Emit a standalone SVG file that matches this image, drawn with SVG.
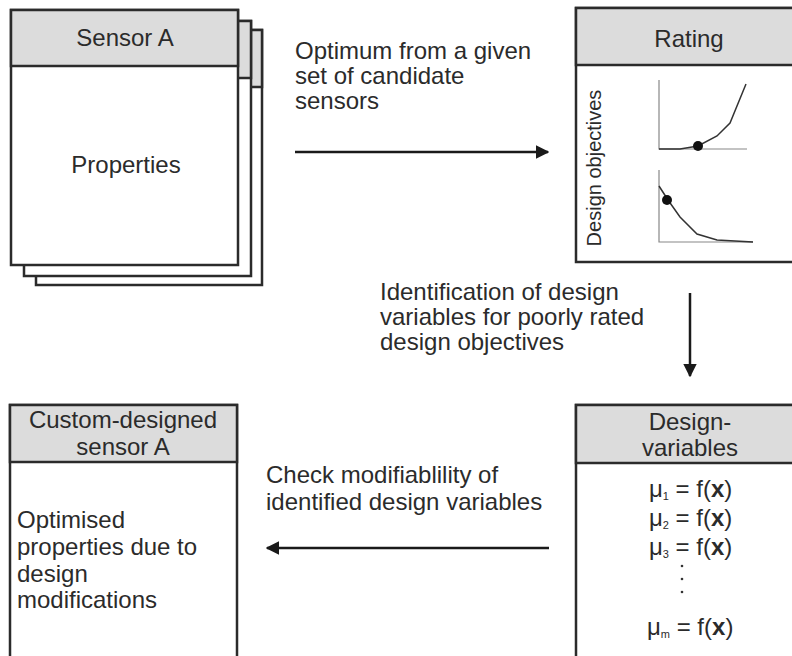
<svg xmlns="http://www.w3.org/2000/svg" width="792" height="656" viewBox="0 0 792 656">
<style>
  .box{fill:#ffffff;stroke:#2b2b2b;stroke-width:2.5}
  .hdr{fill:#dcdcdc;stroke:#2b2b2b;stroke-width:2.5}
  .t{font-family:"Liberation Sans",Arial,sans-serif;font-size:24px;fill:#2b2b2b}
  .c{text-anchor:middle}
  .ax{stroke:#888;stroke-width:1.2;fill:none}
  .cv{stroke:#333;stroke-width:1.5;fill:none}
  .ln{stroke:#1a1a1a;stroke-width:2.5;fill:none}
  .sub{font-size:11px}
</style>
<defs>
  <marker id="ah" viewBox="0 0 10 10" refX="9" refY="5" markerWidth="5.5" markerHeight="5.5" orient="auto" markerUnits="strokeWidth">
    <path d="M0,0 L10,5 L0,10 z" fill="#1a1a1a"/>
  </marker>
</defs>
<rect width="792" height="656" fill="#ffffff"/>

<g id="sensorA">
  <rect class="box" x="36" y="30" width="226" height="255"/>
  <rect class="hdr" x="36" y="30" width="226" height="57"/>
  <rect class="box" x="24" y="21" width="227" height="255"/>
  <rect class="hdr" x="24" y="21" width="227" height="57"/>
  <rect class="box" x="11" y="10" width="227" height="255"/>
  <rect class="hdr" x="11" y="10" width="227" height="56"/>
  <text class="t c" x="125" y="46">Sensor A</text>
  <text class="t c" x="126" y="173">Properties</text>
</g>

<g id="rating">
  <rect class="box" x="576" y="8" width="230" height="254"/>
  <rect class="hdr" x="576" y="8" width="230" height="57"/>
  <text class="t c" x="689" y="47">Rating</text>
  <text class="t c" style="font-size:20px" transform="translate(601,168) rotate(-90)">Design objectives</text>
  <path class="ax" d="M659,80 V149 H747"/>
  <path class="cv" d="M659,149 L680,149 L698,146 L717,136 L730,123 L746,84"/>
  <circle cx="698" cy="146" r="5" fill="#111"/>
  <path class="ax" d="M659,170 V242 H753"/>
  <path class="cv" d="M659,186 L668,200 L680,217 L697,234 L717,240 L753,242"/>
  <circle cx="667" cy="200" r="5" fill="#111"/>
</g>

<g id="designVariables">
  <rect class="box" x="576" y="405" width="230" height="260"/>
  <rect class="hdr" x="576" y="405" width="230" height="58"/>
  <text class="t c" x="690" y="430">Design-</text>
  <text class="t c" x="690" y="456">variables</text>
  <text class="t" x="649" y="497">μ<tspan class="sub" dy="3">1</tspan><tspan dy="-3"> = f(</tspan><tspan font-weight="bold">x</tspan>)</text>
  <text class="t" x="649" y="526">μ<tspan class="sub" dy="3">2</tspan><tspan dy="-3"> = f(</tspan><tspan font-weight="bold">x</tspan>)</text>
  <text class="t" x="649" y="555">μ<tspan class="sub" dy="3">3</tspan><tspan dy="-3"> = f(</tspan><tspan font-weight="bold">x</tspan>)</text>
  <circle cx="682" cy="566" r="1.3" fill="#333"/>
  <circle cx="682" cy="579" r="1.3" fill="#333"/>
  <circle cx="682" cy="592" r="1.3" fill="#333"/>
  <text class="t" x="647" y="635">μ<tspan class="sub" dy="3">m</tspan><tspan dy="-3"> = f(</tspan><tspan font-weight="bold">x</tspan>)</text>
</g>

<g id="customSensor">
  <rect class="box" x="10" y="405" width="227" height="260"/>
  <rect class="hdr" x="10" y="405" width="227" height="57"/>
  <text class="t c" x="123" y="428">Custom-designed</text>
  <text class="t c" x="123" y="455">sensor A</text>
  <text class="t" x="17" y="528">Optimised</text>
  <text class="t" x="17" y="555">properties due to</text>
  <text class="t" x="17" y="582">design</text>
  <text class="t" x="17" y="608">modifications</text>
</g>

<g id="connectors">
  <line class="ln" x1="295" y1="152" x2="548" y2="152" marker-end="url(#ah)"/>
  <line class="ln" x1="690" y1="293" x2="690" y2="376" marker-end="url(#ah)"/>
  <line class="ln" x1="549" y1="548" x2="267" y2="548" marker-end="url(#ah)"/>
  <text class="t" x="295" y="59">Optimum from a given</text>
  <text class="t" x="295" y="84">set of candidate</text>
  <text class="t" x="295" y="109">sensors</text>
  <text class="t" x="380" y="300">Identification of design</text>
  <text class="t" x="380" y="325">variables for poorly rated</text>
  <text class="t" x="380" y="350">design objectives</text>
  <text class="t" x="266" y="483">Check modifiablility of</text>
  <text class="t" x="266" y="510">identified design variables</text>
</g>
</svg>
